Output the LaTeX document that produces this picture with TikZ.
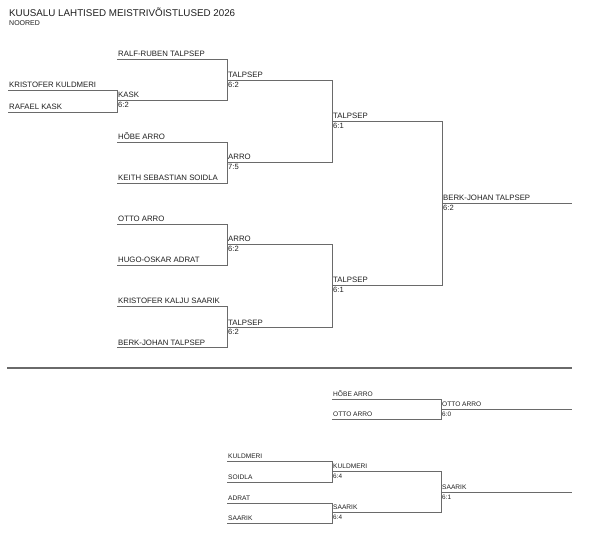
\documentclass[tikz,border=0pt]{standalone}
\usepackage{fontspec}
\setmainfont{Liberation Sans}
\usepackage{tikz}
\usetikzlibrary{positioning,calc}
\definecolor{linegray}{HTML}{6A6A6A}
\definecolor{textgray}{HTML}{1E1E1E}

\begin{document}
\begin{tikzpicture}[x=1pt,y=-1pt,
    bline/.style={draw=linegray,line width=0.9pt},
    pname/.style={anchor=base west,inner sep=0pt,text=textgray,font=\fontsize{7.8}{9}\selectfont},
    pscore/.style={anchor=north west,inner sep=0pt,text=textgray,font=\fontsize{7.6}{9}\selectfont},
    sname/.style={pname,font=\fontsize{6.6}{8}\selectfont},
    sscore/.style={pscore,font=\fontsize{6.4}{8}\selectfont}]
    \useasboundingbox (0,0) rectangle (600,548);

    \node [anchor=base west, inner sep=0pt, text=textgray, font=\fontsize{9.8}{12}\selectfont] (title) at (9,16.5) {KUUSALU LAHTISED MEISTRIVÕISTLUSED 2026};
    \node [anchor=base west, inner sep=0pt, text=textgray, font=\fontsize{7}{8}\selectfont] (group) at (9,26) {NOORED};

    % main bracket
    \coordinate (s01) at (8,90);    \coordinate (s02) at (8,112);
    \coordinate (s11) at (117,59);  \coordinate (s12) at (117,100);
    \coordinate (s13) at (117,142); \coordinate (s14) at (117,183);
    \coordinate (s15) at (117,224); \coordinate (s16) at (117,265);
    \coordinate (s17) at (117,306); \coordinate (s18) at (117,347);
    \coordinate (s21) at (227,80);  \coordinate (s22) at (227,162);
    \coordinate (s23) at (227,244); \coordinate (s24) at (227,327);
    \coordinate (s31) at (332,121); \coordinate (s32) at (332,285);
    \coordinate (s41) at (442,203); \coordinate (fin) at (572,203);

    \draw [bline] (s01) -- (s01 -| s12) |- (s02);
    \draw [bline] (s11) -- (s11 -| s21) |- (s12);
    \draw [bline] (s13) -- (s13 -| s22) |- (s14);
    \draw [bline] (s15) -- (s15 -| s23) |- (s16);
    \draw [bline] (s17) -- (s17 -| s24) |- (s18);
    \draw [bline] (s21) -- (s21 -| s31) |- (s22);
    \draw [bline] (s23) -- (s23 -| s32) |- (s24);
    \draw [bline] (s31) -- (s31 -| s41) |- (s32);
    \draw [bline] (s41) -- (fin);

    \node [pname] (n01) at ([xshift=1pt,yshift=2pt]s01) {KRISTOFER KULDMERI};
    \node [pname] (n02) at ([xshift=1pt,yshift=2pt]s02) {RAFAEL KASK};
    \node [pname] (n11) at ([xshift=1pt,yshift=2pt]s11) {RALF-RUBEN TALPSEP};
    \node [pname] (n12) at ([xshift=1pt,yshift=2pt]s12) {KASK};
    \node [pscore] (r12) at ([xshift=1pt,yshift=-2pt]s12) {6:2};
    \node [pname] (n13) at ([xshift=1pt,yshift=2pt]s13) {HÕBE ARRO};
    \node [pname] (n14) at ([xshift=1pt,yshift=2pt]s14) {KEITH SEBASTIAN SOIDLA};
    \node [pname] (n15) at ([xshift=1pt,yshift=2pt]s15) {OTTO ARRO};
    \node [pname] (n16) at ([xshift=1pt,yshift=2pt]s16) {HUGO-OSKAR ADRAT};
    \node [pname] (n17) at ([xshift=1pt,yshift=2pt]s17) {KRISTOFER KALJU SAARIK};
    \node [pname] (n18) at ([xshift=1pt,yshift=2pt]s18) {BERK-JOHAN TALPSEP};
    \node [pname] (n21) at ([xshift=1pt,yshift=2pt]s21) {TALPSEP};
    \node [pscore] (r21) at ([xshift=1pt,yshift=-2pt]s21) {6:2};
    \node [pname] (n22) at ([xshift=1pt,yshift=2pt]s22) {ARRO};
    \node [pscore] (r22) at ([xshift=1pt,yshift=-2pt]s22) {7:5};
    \node [pname] (n23) at ([xshift=1pt,yshift=2pt]s23) {ARRO};
    \node [pscore] (r23) at ([xshift=1pt,yshift=-2pt]s23) {6:2};
    \node [pname] (n24) at ([xshift=1pt,yshift=2pt]s24) {TALPSEP};
    \node [pscore] (r24) at ([xshift=1pt,yshift=-2pt]s24) {6:2};
    \node [pname] (n31) at ([xshift=1pt,yshift=2pt]s31) {TALPSEP};
    \node [pscore] (r31) at ([xshift=1pt,yshift=-2pt]s31) {6:1};
    \node [pname] (n32) at ([xshift=1pt,yshift=2pt]s32) {TALPSEP};
    \node [pscore] (r32) at ([xshift=1pt,yshift=-2pt]s32) {6:1};
    \node [pname] (n41) at ([xshift=1pt,yshift=2pt]s41) {BERK-JOHAN TALPSEP};
    \node [pscore] (r41) at ([xshift=1pt,yshift=-2pt]s41) {6:2};

    \coordinate (sepl) at (7,368); \coordinate (sepr) at (572,368);
    \draw [draw=linegray, line width=1.8pt] (sepl) -- (sepr);

    % placement matches
    \coordinate (t1) at (332,399); \coordinate (t2) at (332,419);
    \coordinate (t3) at (441,409); \coordinate (tfin) at (572,409);
    \coordinate (u1) at (227,461); \coordinate (u2) at (227,482);
    \coordinate (u3) at (227,503); \coordinate (u4) at (227,523);
    \coordinate (v1) at (332,471); \coordinate (v2) at (332,512);
    \coordinate (w1) at (441,492); \coordinate (wfin) at (572,492);

    \draw [bline] (t1) -- (t1 -| t3) |- (t2);
    \draw [bline] (t3) -- (tfin);
    \draw [bline] (u1) -- (u1 -| v1) |- (u2);
    \draw [bline] (u3) -- (u3 -| v2) |- (u4);
    \draw [bline] (v1) -- (v1 -| w1) |- (v2);
    \draw [bline] (w1) -- (wfin);

    \node [sname] (m1) at ([xshift=1pt,yshift=2.5pt]t1) {HÕBE ARRO};
    \node [sname] (m2) at ([xshift=1pt,yshift=2.5pt]t2) {OTTO ARRO};
    \node [sname] (m3) at ([xshift=1pt,yshift=2.5pt]t3) {OTTO ARRO};
    \node [sscore] (q3) at ([xshift=1pt,yshift=-2.5pt]t3) {6:0};
    \node [sname] (k1) at ([xshift=1pt,yshift=2.5pt]u1) {KULDMERI};
    \node [sname] (k2) at ([xshift=1pt,yshift=2.5pt]u2) {SOIDLA};
    \node [sname] (k3) at ([xshift=1pt,yshift=2.5pt]u3) {ADRAT};
    \node [sname] (k4) at ([xshift=1pt,yshift=2.5pt]u4) {SAARIK};
    \node [sname] (k5) at ([xshift=1pt,yshift=2.5pt]v1) {KULDMERI};
    \node [sscore] (q5) at ([xshift=1pt,yshift=-2.5pt]v1) {6:4};
    \node [sname] (k6) at ([xshift=1pt,yshift=2.5pt]v2) {SAARIK};
    \node [sscore] (q6) at ([xshift=1pt,yshift=-2.5pt]v2) {6:4};
    \node [sname] (k7) at ([xshift=1pt,yshift=2.5pt]w1) {SAARIK};
    \node [sscore] (q7) at ([xshift=1pt,yshift=-2.5pt]w1) {6:1};
\end{tikzpicture}
\end{document}
